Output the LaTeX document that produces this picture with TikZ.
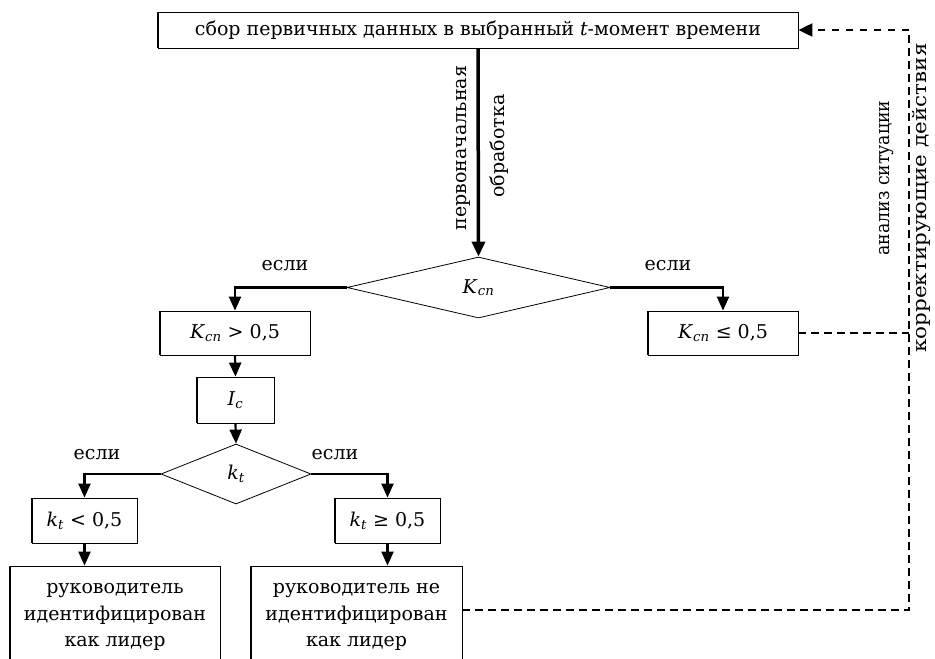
\documentclass[tikz,border=0pt]{standalone}
\usepackage{fontspec}
\usepackage{graphicx}
\setmainfont{DejaVu Serif}
\usetikzlibrary{shapes.geometric,arrows.meta}
\newcommand\fs{\fontsize{19}{26.5}\selectfont}
\newcommand\Ksp{\textit{K}\textsubscript{\itshape сп}}
\begin{document}
\begin{tikzpicture}[x=1pt,y=-1pt,
  box/.style={draw,line width=0.8pt,inner sep=0pt,align=center,font=\fs},
  dia/.style={draw,diamond,line width=0.8pt,inner sep=0pt,font=\fs},
  lbl/.style={font=\fs,inner sep=0pt},
  side/.style={line width=1.8pt},
  mainarrow/.style={line width=3.5pt,-{Triangle[width=13pt,length=15pt]}},
  branch/.style={line width=2.2pt,-{Triangle[width=12pt,length=14pt]}},
  dashline/.style={line width=2pt,dash pattern=on 8pt off 5pt}]
\useasboundingbox (0,0) rectangle (935,659);
\clip (0,0) rectangle (935,659);
\fill[white] (0,0) rectangle (935,659);

\node[box,minimum width=640pt,minimum height=36pt] (top) at (478,30) {сбор первичных данных в выбранный \textit{t}-момент времени};
\node[dia,minimum width=263pt,minimum height=61pt] (dK) at (478.5,287.5) {\Ksp};
\node[box,minimum width=150pt,minimum height=44pt] (b1) at (235,333) {\Ksp\ > 0,5};
\node[box,minimum width=150pt,minimum height=44pt] (b2) at (723,333) {\Ksp\ ≤ 0,5};
\node[box,minimum width=77pt,minimum height=46pt] (Ic) at (235.5,400) {\textit{I}\textsubscript{\itshape c}};
\node[dia,minimum width=150pt,minimum height=60pt] (dk) at (236,474) {\textit{k}\textsubscript{\itshape t}};
\node[box,minimum width=105pt,minimum height=45pt] (b3) at (84.5,520.5) {\textit{k}\textsubscript{\itshape t} < 0,5};
\node[box,minimum width=105pt,minimum height=45pt] (b4) at (387.5,520.5) {\textit{k}\textsubscript{\itshape t} ≥ 0,5};
\node[box,minimum width=210pt,minimum height=102pt] (L1) at (115,617) {руководитель\\идентифицирован\\как лидер};
\node[box,minimum width=211pt,minimum height=102pt] (L2) at (356.5,617) {руководитель не\\идентифицирован\\как лидер};

\foreach \n in {top,b1,b2,Ic,b3,b4,L1,L2}
  \draw[side] (\n.north west)--(\n.south west) (\n.north east)--(\n.south east);

\node[lbl,rotate=90] (p1) at (463,148) {первоначальная};
\node[lbl,rotate=90] (p2) at (499,146) {обработка};
\node[lbl] (e1) at (285,266) {если};
\node[lbl] (e2) at (668,266) {если};
\node[lbl] (e3) at (97,455) {если};
\node[lbl] (e4) at (335,455) {если};
\node[lbl,rotate=90] (r1) at (887,178) {\scalebox{0.91}[1]{анализ ситуации}};
\node[lbl,rotate=90] (r2) at (922,198) {\scalebox{1.13}[1]{корректирующие действия}};

\draw[mainarrow] (top.south) -- (dK.north);
\draw[branch] (dK.west) -| (b1.north);
\draw[branch] (dK.east) -| (b2.north);
\draw[branch] (b1.south) -- (Ic.north);
\draw[branch] (Ic.south) -- (dk.north);
\draw[branch] (dk.west) -| (b3.north);
\draw[branch] (dk.east) -| (b4.north);
\draw[branch] (b3.south) -- (b3.south |- L1.north);
\draw[branch] (b4.south) -- (b4.south |- L2.north);

\coordinate (c2) at (909,30);
\draw[dashline] ([yshift=7pt]L2.east) -| (c2);
\draw[dashline,dash pattern=on 7pt off 7pt,-{Triangle[width=13pt,length=14pt]}] (c2) -- (top.east);
\draw[dashline] (b2.east) -- (b2.east -| c2);
\end{tikzpicture}
\end{document}
